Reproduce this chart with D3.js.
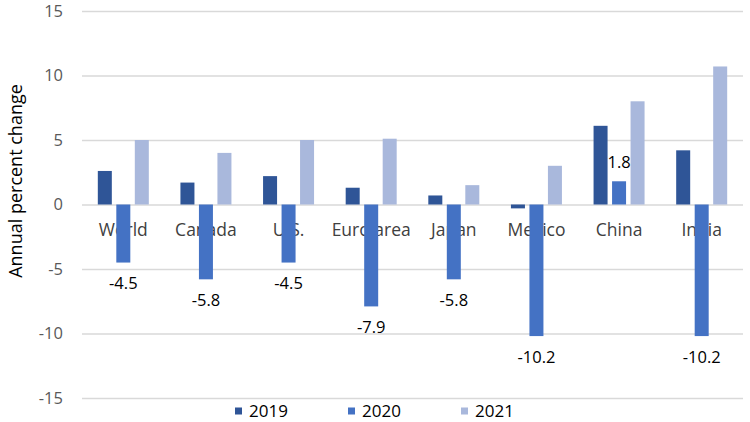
<!DOCTYPE html>
<html>
<head>
<meta charset="utf-8">
<script src="https://cdn.jsdelivr.net/npm/d3@7"></script>
<style>
    body { margin: 0; background: #fff; }
    svg text { font-family: 'Open Sans', 'Liberation Sans', sans-serif; }
</style>
</head>
<body>
<div id="chart"></div>
<script>
const regions = ['World', 'Canada', 'U.S.', 'Euro area', 'Japan', 'Mexico', 'China', 'India'];
const years = ['2019', '2020', '2021'];
const growth2019 = [2.6, 1.7, 2.2, 1.3, 0.7, -0.3, 6.1, 4.2];
const growth2020 = [-4.5, -5.8, -4.5, -7.9, -5.8, -10.2, 1.8, -10.2];
const growth2021 = [5.0, 4.0, 5.0, 5.1, 1.5, 3.0, 8.0, 10.7];
const yTicks = [-15, -10, -5, 0, 5, 10, 15];
const colors = ['#2F5597', '#4472C4', '#A9B8DC'];

const width = 750, height = 422;
const margin = {top: 11, right: 7, bottom: 24, left: 82};
const innerW = width - margin.left - margin.right;
const innerH = height - margin.top - margin.bottom;

const series = [growth2019, growth2020, growth2021];
const rows = [];
regions.forEach((r, i) => {
    years.forEach((y, j) => rows.push({region: r, year: y, idx: j, value: series[j][i]}));
});

const svg = d3.select('#chart').append('svg')
    .attr('width', width)
    .attr('height', height);
const g = svg.append('g')
    .attr('transform', `translate(${margin.left}, ${margin.top})`);

const x = d3.scaleBand()
    .domain(regions)
    .range([0, innerW])
    .padding(0);
const x1 = d3.scaleBand()
    .domain(years)
    .range([x.bandwidth() / 2 - 25.5, x.bandwidth() / 2 + 25.5])
    .paddingInner(0.243)
    .paddingOuter(0);
const y = d3.scaleLinear()
    .domain([-15, 15])
    .range([innerH, 0]);

// plain hyphen for negatives, like the original
const fmt = v => String(v);

// gridlines + tick labels
const yAxis = g.append('g')
    .call(d3.axisLeft(y).tickValues(yTicks).tickSize(-innerW).tickPadding(19).tickFormat(fmt));
yAxis.select('.domain').remove();
yAxis.selectAll('.tick line').attr('stroke', '#D9D9D9').attr('stroke-width', 1.3);
yAxis.selectAll('.tick text')
    .attr('fill', '#595959')
    .style('font-size', '16.5px');

// category labels sit under the bars
g.append('g').selectAll('text')
    .data(regions)
    .enter()
    .append('text')
    .attr('x', d => x(d) + x.bandwidth() / 2)
    .attr('y', y(0) + 25)
    .attr('dy', '0.35em')
    .attr('text-anchor', 'middle')
    .attr('fill', '#404040')
    .style('font-size', '17.5px')
    .text(d => d);

// bars
g.append('g').selectAll('rect')
    .data(rows)
    .enter()
    .append('rect')
    .attr('x', d => x(d.region) + x1(d.year))
    .attr('y', d => y(Math.max(0, d.value)))
    .attr('width', x1.bandwidth())
    .attr('height', d => Math.abs(y(d.value) - y(0)))
    .attr('fill', d => colors[d.idx]);

// data labels on 2020 only
g.append('g').selectAll('text')
    .data(rows.filter(d => d.year === '2020'))
    .enter()
    .append('text')
    .attr('x', d => x(d.region) + x1(d.year) + x1.bandwidth() / 2)
    .attr('y', d => y(d.value) + (d.value < 0 ? 21 : -19))
    .attr('dy', '0.35em')
    .attr('text-anchor', 'middle')
    .attr('fill', '#000')
    .style('font-size', '16.5px')
    .text(d => d.value.toFixed(1));

// axis title
svg.append('text')
    .attr('transform', 'translate(16, 181) rotate(-90)')
    .attr('dy', '0.35em')
    .attr('text-anchor', 'middle')
    .attr('fill', '#000')
    .style('font-size', '18px')
    .text('Annual percent change');

// legend
const legendX = [235, 348, 461];
const legend = svg.append('g').selectAll('g')
    .data(years)
    .enter()
    .append('g')
    .attr('transform', (d, i) => `translate(${legendX[i]}, 411)`);
legend.append('rect')
    .attr('x', 0)
    .attr('y', -3.5)
    .attr('width', 7)
    .attr('height', 7)
    .attr('fill', (d, i) => colors[i]);
legend.append('text')
    .attr('x', 14)
    .attr('dy', '0.35em')
    .attr('fill', '#000')
    .style('font-size', '17px')
    .text(d => d);
</script>
</body>
</html>
